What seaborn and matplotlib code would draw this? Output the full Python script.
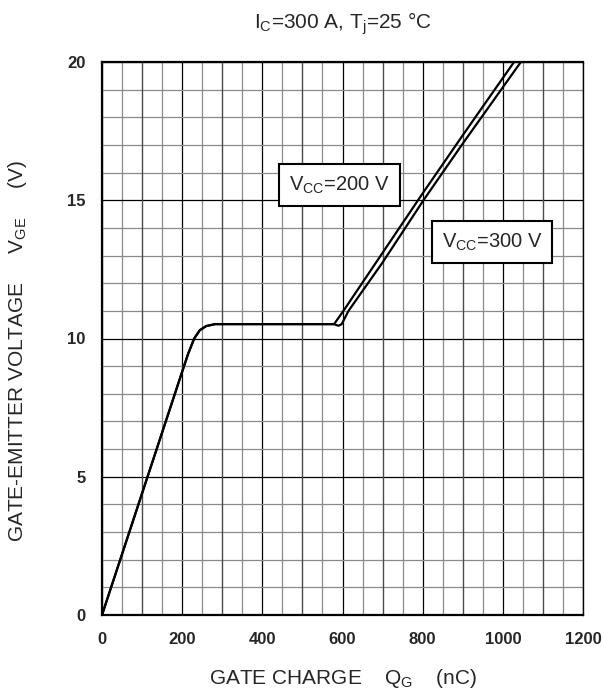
import numpy as np
import pandas as pd
import matplotlib
matplotlib.use("Agg")
import matplotlib.pyplot as plt
import seaborn as sns

# gate charge curve, shared part (nC, V)
q_common = [0, 100, 200, 215, 230, 244, 260, 282, 400, 500, 579]
v_common = [0, 4.4, 8.8, 9.45, 10.0, 10.3, 10.45, 10.52, 10.52, 10.52, 10.52]

# Vcc = 200 V rising part
q_200 = [600, 700, 800, 900, 1028]
v_200 = [10.95, 13.1, 15.25, 17.35, 20.0]

# Vcc = 300 V rising part
q_300 = [590, 598, 615, 700, 802, 900, 1045]
v_300 = [10.46, 10.52, 11.0, 12.75, 15.0, 17.05, 20.0]

series_names = ["V$_{\\mathregular{CC}}$=200 V", "V$_{\\mathregular{CC}}$=300 V"]
label_pos_q = [592, 973]
label_pos_v = [15.55, 13.49]

x_ticks = [0, 200, 400, 600, 800, 1000, 1200]
y_ticks = [0, 5, 10, 15, 20]

rows = []
for name, qs, vs in [(series_names[0], q_200, v_200), (series_names[1], q_300, v_300)]:
    for q, v in zip(q_common + qs, v_common + vs):
        rows.append({"Q": q, "V": v, "series": name})
df = pd.DataFrame(rows)

sns.set_style("white")
plt.rcParams["font.family"] = ["Liberation Sans", "DejaVu Sans"]
plt.rcParams["mathtext.fontset"] = "custom"
plt.rcParams["mathtext.rm"] = "Liberation Sans"
plt.rcParams["mathtext.it"] = "Liberation Sans:italic"
plt.rcParams["mathtext.bf"] = "Liberation Sans:bold"

fig = plt.figure(figsize=(6.03, 6.93), dpi=100)
ax = fig.add_axes([102 / 603, 1 - 615 / 693, 481 / 603, 553 / 693])

# grid, three tiers
ax.set_xticks(x_ticks)
ax.set_yticks(y_ticks)
ax.set_xticks(np.arange(0, 1201, 50), minor=True)
ax.set_yticks(np.arange(0, 21, 1), minor=True)
ax.grid(which="minor", color="#8a8a8a", lw=0.9)
ax.vlines(np.arange(100, 1200, 200), 0, 20, color="#4a4a4a", lw=0.9, zorder=0.6)
ax.grid(which="major", color="black", lw=0.9)
ax.set_axisbelow(True)

for name in series_names:
    sub = df[df["series"] == name]
    sns.lineplot(data=sub, x="Q", y="V", sort=False, estimator=None,
                 color="black", lw=1.6, ax=ax, legend=False)

for name, q, v in zip(series_names, label_pos_q, label_pos_v):
    ax.text(q, v, name, fontsize=14.5, ha="center", va="center",
            bbox=dict(boxstyle="square,pad=0.5", fc="white", ec="black", lw=1.5), zorder=5)

ax.set_xlim(0, 1200)
ax.set_ylim(0, 20)
ax.set_xticklabels([str(t) for t in x_ticks], fontweight="bold", fontsize=12)
ax.set_yticklabels([str(t) for t in y_ticks], fontweight="bold", fontsize=12)
ax.tick_params(which="major", direction="out", length=4, width=1, pad=8, color="black")
ax.tick_params(which="minor", axis="y", direction="out", length=3, width=0.8, color="black")
ax.tick_params(which="minor", axis="x", length=0)

for s in ["left", "bottom", "top"]:
    ax.spines[s].set_linewidth(1.6)
ax.spines["right"].set_linewidth(1.0)
for s in ax.spines.values():
    s.set_color("black")

ax.set_xlabel("GATE CHARGE    Q$_{\\mathregular{G}}$    (nC)", fontsize=15, labelpad=15)
ax.set_ylabel("GATE-EMITTER VOLTAGE     V$_{\\mathregular{GE}}$     (V)", fontsize=15)
ax.yaxis.set_label_coords(-0.152, 0.477)
ax.set_title("I$_{\\mathregular{C}}$=300 A, T$_{\\mathregular{j}}$=25 °C", fontsize=15, pad=24)

fig.savefig("out.png", dpi=100)
